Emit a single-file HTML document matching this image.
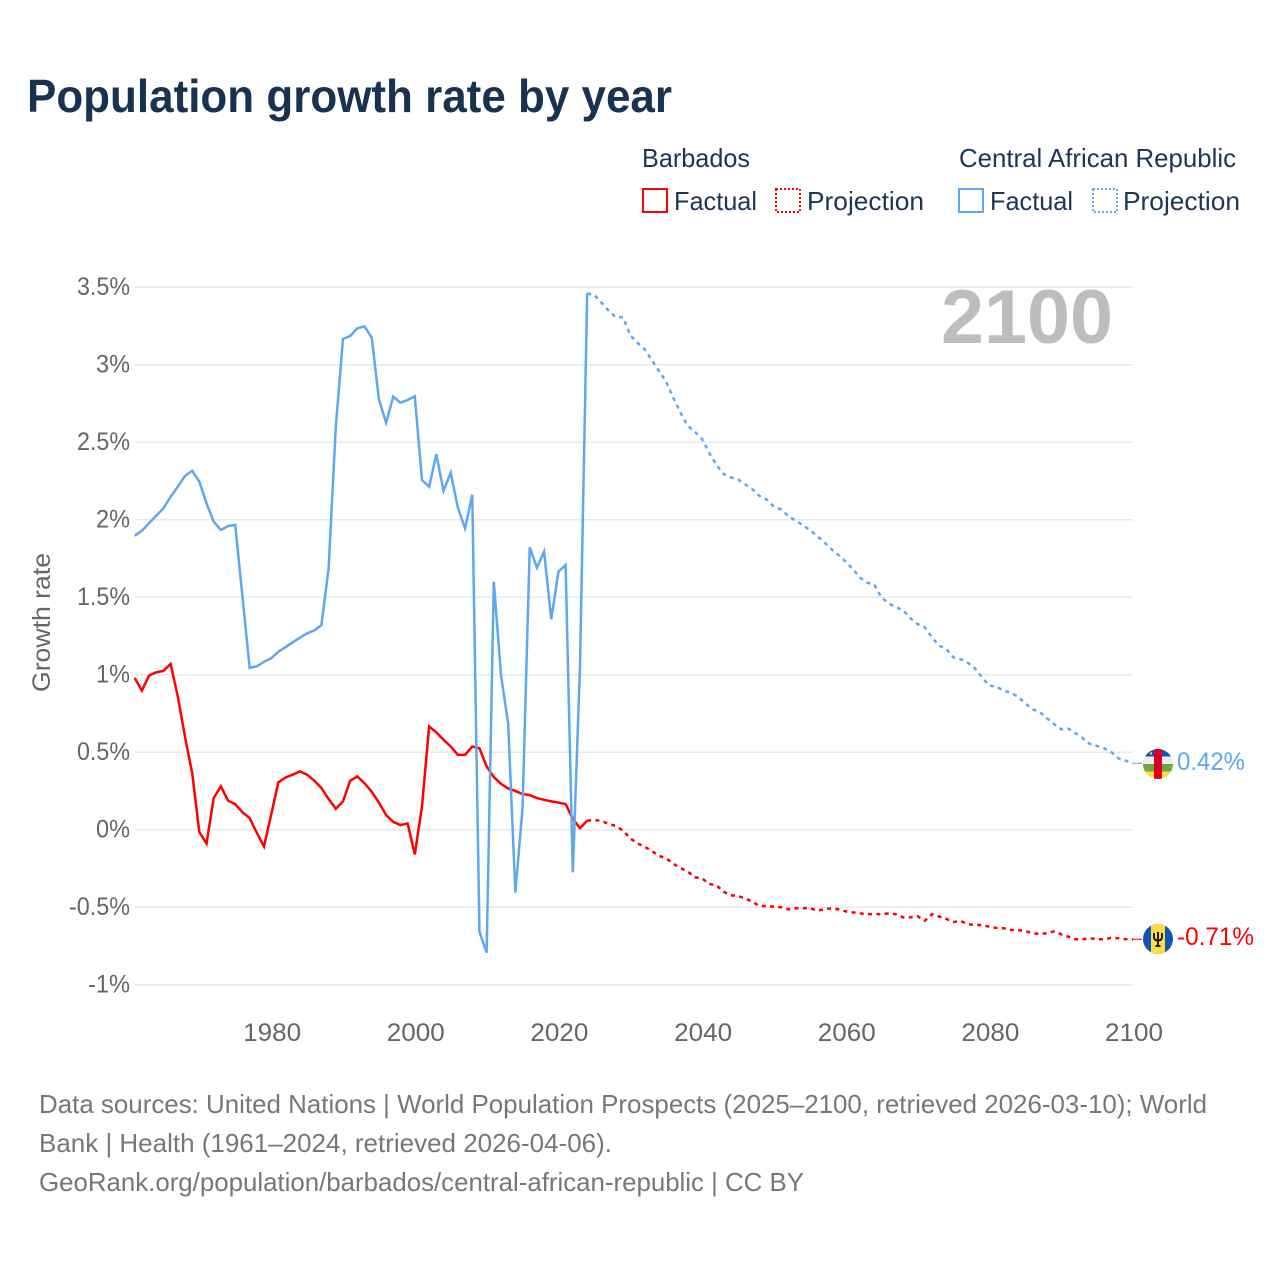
<!DOCTYPE html>
<html lang="en">
<head>
<meta charset="utf-8">
<title>Population growth rate by year</title>
<style>
html,body{margin:0;padding:0;background:#fff;}
svg{display:block;font-family:"Liberation Sans",sans-serif;}
</style>
</head>
<body>
<svg id="chart" xmlns="http://www.w3.org/2000/svg" width="1280" height="1280" viewBox="0 0 1280 1280">
  <rect width="1280" height="1280" fill="#fff"/>
  <text x="27" y="112" font-size="46" font-weight="700" fill="#18324f" textLength="645" lengthAdjust="spacingAndGlyphs">Population growth rate by year</text>

  <g font-size="26" fill="#1d3557">
    <text x="642" y="167" textLength="108" lengthAdjust="spacingAndGlyphs">Barbados</text>
    <text x="959" y="167" textLength="277" lengthAdjust="spacingAndGlyphs">Central African Republic</text>
    <rect x="643" y="189" width="24" height="23" fill="none" stroke="#ff0000" stroke-width="2"/>
    <text x="674" y="210" textLength="83" lengthAdjust="spacingAndGlyphs">Factual</text>
    <rect x="776" y="189" width="24" height="23" fill="none" stroke="#ff0000" stroke-width="2" stroke-dasharray="2 2"/>
    <text x="807" y="210" textLength="117" lengthAdjust="spacingAndGlyphs">Projection</text>
    <rect x="959" y="189" width="24" height="23" fill="none" stroke="#5fa8ee" stroke-width="2"/>
    <text x="990" y="210" textLength="83" lengthAdjust="spacingAndGlyphs">Factual</text>
    <rect x="1093" y="189" width="24" height="23" fill="none" stroke="#5fa8ee" stroke-width="2" stroke-dasharray="2 2"/>
    <text x="1123" y="210" textLength="117" lengthAdjust="spacingAndGlyphs">Projection</text>
  </g>

  <g id="grid"></g>
  <g id="yticks"></g>
  <g id="xticks"></g>
  <text transform="translate(50,692) rotate(-90)" font-size="25" fill="#666" textLength="139" lengthAdjust="spacingAndGlyphs">Growth rate</text>
  <text x="941" y="343" font-size="76" font-weight="700" fill="#bdbdbd" textLength="172" lengthAdjust="spacingAndGlyphs">2100</text>
  <g id="series"></g>

  <defs>
    <clipPath id="clip-car"><circle cx="1158" cy="764" r="15"/></clipPath>
    <clipPath id="clip-bb"><circle cx="1158" cy="939" r="15"/></clipPath>
  </defs>
  <g id="flag-car" clip-path="url(#clip-car)">
    <rect x="1143" y="749" width="30" height="7.5" fill="#0f56b5"/>
    <rect x="1143" y="756.5" width="30" height="7.5" fill="#eeeeee"/>
    <rect x="1143" y="764" width="30" height="7.5" fill="#6da544"/>
    <rect x="1143" y="771.5" width="30" height="7.5" fill="#ffda44"/>
    <rect x="1154" y="749" width="8" height="30" fill="#d80027"/>
    <circle cx="1151" cy="753.5" r="1.2" fill="#ffda44"/>
  </g>
  <g id="flag-bb" clip-path="url(#clip-bb)">
    <rect x="1143" y="924" width="30" height="30" fill="#0f56b5"/>
    <rect x="1151" y="924" width="14" height="30" fill="#ffda44"/>
    <path d="M1158 932v14M1154 933v4q0 3.5 4 3.5t4-3.5v-4M1155.5 946h5" fill="none" stroke="#000" stroke-width="1.7"/>
  </g>
  <text x="1177" y="770" font-size="25" fill="#5fa8ee" textLength="68" lengthAdjust="spacingAndGlyphs">0.42%</text>
  <text x="1177" y="945" font-size="25" fill="#ff0000" textLength="77" lengthAdjust="spacingAndGlyphs">-0.71%</text>

  <g font-size="26" fill="#777">
    <text x="39" y="1113" textLength="1168" lengthAdjust="spacingAndGlyphs">Data sources: United Nations | World Population Prospects (2025–2100, retrieved 2026-03-10); World</text>
    <text x="39" y="1152" textLength="573" lengthAdjust="spacingAndGlyphs">Bank | Health (1961–2024, retrieved 2026-04-06).</text>
    <text x="39" y="1191" textLength="765" lengthAdjust="spacingAndGlyphs">GeoRank.org/population/barbados/central-african-republic | CC BY</text>
  </g>
</svg>
<script>
const factualStartYear = 1961;
const projectionStartYear = 2024;
const yTickValues = [3.5, 3, 2.5, 2, 1.5, 1, 0.5, 0, -0.5, -1];
const yTickLabels = ["3.5%", "3%", "2.5%", "2%", "1.5%", "1%", "0.5%", "0%", "-0.5%", "-1%"];
const xTickYears = [1980, 2000, 2020, 2040, 2060, 2080, 2100];

const barbadosFactual = [
  0.98, 0.897, 0.995, 1.015, 1.025, 1.069, 0.86, 0.60, 0.365, -0.015,
  -0.09, 0.205, 0.28, 0.187, 0.165, 0.113, 0.075, -0.02, -0.108, 0.097,
  0.305, 0.337, 0.355, 0.376, 0.355, 0.316, 0.269, 0.198, 0.135, 0.183,
  0.316, 0.344, 0.30, 0.245, 0.175, 0.095, 0.05, 0.03, 0.04, -0.16,
  0.15, 0.667, 0.628, 0.58, 0.537, 0.483, 0.483, 0.537, 0.525, 0.408,
  0.34, 0.296, 0.266, 0.25, 0.23, 0.223, 0.204, 0.193, 0.183, 0.175,
  0.165, 0.07, 0.01, 0.058
];
const barbadosProjection = [
  0.058, 0.063, 0.056, 0.037, 0.024, -0.006, -0.056, -0.088, -0.11, -0.137,
  -0.168, -0.185, -0.22, -0.247, -0.27, -0.307, -0.314, -0.35, -0.359, -0.40,
  -0.423, -0.428, -0.443, -0.465, -0.492, -0.492, -0.497, -0.50, -0.514, -0.507,
  -0.507, -0.505, -0.522, -0.514, -0.507, -0.514, -0.527, -0.533, -0.54, -0.545,
  -0.545, -0.545, -0.54, -0.545, -0.566, -0.566, -0.558, -0.588, -0.545, -0.56,
  -0.576, -0.595, -0.589, -0.61, -0.615, -0.615, -0.626, -0.634, -0.636, -0.647,
  -0.647, -0.654, -0.667, -0.673, -0.668, -0.656, -0.675, -0.69, -0.707, -0.707,
  -0.70, -0.707, -0.707, -0.697, -0.70, -0.707, -0.707
];
const carFactual = [
  1.897, 1.929, 1.977, 2.026, 2.073, 2.148, 2.213, 2.282, 2.316, 2.245,
  2.106, 1.987, 1.934, 1.959, 1.966, 1.506, 1.045, 1.054, 1.084, 1.106,
  1.148, 1.178, 1.209, 1.239, 1.267, 1.286, 1.32, 1.686, 2.6, 3.166,
  3.185, 3.235, 3.247, 3.176, 2.777, 2.626, 2.794, 2.755, 2.772, 2.796,
  2.256, 2.213, 2.422, 2.187, 2.303, 2.077, 1.944, 2.161, -0.658, -0.794,
  1.6, 0.998, 0.686, -0.406, 0.138, 1.822, 1.69, 1.794, 1.357, 1.665,
  1.708, -0.275, 1.052, 3.46
];
const carProjection = [
  3.46, 3.45, 3.40, 3.348, 3.306, 3.306, 3.19, 3.142, 3.10, 3.03,
  2.96, 2.89, 2.785, 2.69, 2.606, 2.568, 2.52, 2.43, 2.353, 2.295,
  2.273, 2.26, 2.228, 2.197, 2.153, 2.13, 2.084, 2.066, 2.024, 1.994,
  1.966, 1.933, 1.895, 1.855, 1.81, 1.772, 1.729, 1.68, 1.626, 1.594,
  1.579, 1.497, 1.46, 1.435, 1.417, 1.364, 1.327, 1.306, 1.241, 1.187,
  1.166, 1.112, 1.10, 1.077, 1.041, 0.981, 0.929, 0.923, 0.897, 0.884,
  0.858, 0.815, 0.777, 0.76, 0.719, 0.682, 0.648, 0.652, 0.622, 0.59,
  0.553, 0.54, 0.525, 0.50, 0.46, 0.445, 0.428
];

const SVG_NS = "http://www.w3.org/2000/svg";
const xScale = function (year) { return 134.7 + (year - 1961) * (998.3 / 139); };
const yScale = function (v) { return 829.7 - v * 155; };
const labelWidth = function (s) {
  let w = 0;
  for (const c of s) {
    if (c === "%") w += 19.5;
    else if (c === ".") w += 4.5;
    else if (c === "-") w += 8;
    else w += 14.5;
  }
  return w;
};

function buildPath(values, startYear) {
  return values.map(function (v, i) {
    return (i ? "L" : "M") + xScale(startYear + i).toFixed(2) + " " + yScale(v).toFixed(2);
  }).join("");
}

const gridGroup = document.getElementById("grid");
const yTickGroup = document.getElementById("yticks");
const xTickGroup = document.getElementById("xticks");
const seriesGroup = document.getElementById("series");

yTickValues.forEach(function (v, i) {
  const line = document.createElementNS(SVG_NS, "line");
  
  
  line.setAttribute("x1", 135);
  line.setAttribute("x2", 1133);
  line.setAttribute("y1", yScale(v));
  line.setAttribute("y2", yScale(v));
  line.setAttribute("stroke", "#e9e9e9");
  line.setAttribute("stroke-width", "1.5");
  gridGroup.appendChild(line);

  const label = document.createElementNS(SVG_NS, "text");
  
  
  label.setAttribute("x", 130);
  label.setAttribute("y", yScale(v) + 8);
  label.setAttribute("text-anchor", "end");
  label.setAttribute("font-size", "25");
  label.setAttribute("fill", "#666");
  label.setAttribute("textLength", labelWidth(yTickLabels[i]));
  label.setAttribute("lengthAdjust", "spacingAndGlyphs");
  label.textContent = yTickLabels[i];
  yTickGroup.appendChild(label);
});

xTickYears.forEach(function (year) {
  const label = document.createElementNS(SVG_NS, "text");
  
  
  label.setAttribute("x", xScale(year) + 1);
  label.setAttribute("y", 1041);
  label.setAttribute("text-anchor", "middle");
  label.setAttribute("font-size", "25");
  label.setAttribute("fill", "#666");
  label.setAttribute("textLength", "58");
  label.setAttribute("lengthAdjust", "spacingAndGlyphs");
  label.textContent = String(year);
  xTickGroup.appendChild(label);
});

const barbadosFactualLine = document.createElementNS(SVG_NS, "path");


barbadosFactualLine.setAttribute("d", buildPath(barbadosFactual, factualStartYear));
barbadosFactualLine.setAttribute("fill", "none");
barbadosFactualLine.setAttribute("stroke", "#ff0000");
barbadosFactualLine.setAttribute("stroke-width", "2.5");
seriesGroup.appendChild(barbadosFactualLine);

const barbadosProjectionLine = document.createElementNS(SVG_NS, "path");


barbadosProjectionLine.setAttribute("d", buildPath(barbadosProjection, projectionStartYear));
barbadosProjectionLine.setAttribute("fill", "none");
barbadosProjectionLine.setAttribute("stroke", "#ff0000");
barbadosProjectionLine.setAttribute("stroke-width", "2.5");
barbadosProjectionLine.setAttribute("stroke-dasharray", "4 4.3");
seriesGroup.appendChild(barbadosProjectionLine);

const carFactualLine = document.createElementNS(SVG_NS, "path");


carFactualLine.setAttribute("d", buildPath(carFactual, factualStartYear));
carFactualLine.setAttribute("fill", "none");
carFactualLine.setAttribute("stroke", "#5fa8ee");
carFactualLine.setAttribute("stroke-width", "2.5");
seriesGroup.appendChild(carFactualLine);

const carProjectionLine = document.createElementNS(SVG_NS, "path");


carProjectionLine.setAttribute("d", buildPath(carProjection, projectionStartYear));
carProjectionLine.setAttribute("fill", "none");
carProjectionLine.setAttribute("stroke", "#5fa8ee");
carProjectionLine.setAttribute("stroke-width", "2.5");
carProjectionLine.setAttribute("stroke-dasharray", "4 4.3");
seriesGroup.appendChild(carProjectionLine);

const carConnector = document.createElementNS(SVG_NS, "line");


carConnector.setAttribute("x1", xScale(2100));
carConnector.setAttribute("x2", 1142);
carConnector.setAttribute("y1", yScale(carProjection[carProjection.length - 1]));
carConnector.setAttribute("y2", yScale(carProjection[carProjection.length - 1]));
carConnector.setAttribute("stroke", "#5fa8ee");
carConnector.setAttribute("stroke-width", "1");
seriesGroup.appendChild(carConnector);

const barbadosConnector = document.createElementNS(SVG_NS, "line");


barbadosConnector.setAttribute("x1", xScale(2100));
barbadosConnector.setAttribute("x2", 1142);
barbadosConnector.setAttribute("y1", yScale(barbadosProjection[barbadosProjection.length - 1]));
barbadosConnector.setAttribute("y2", yScale(barbadosProjection[barbadosProjection.length - 1]));
barbadosConnector.setAttribute("stroke", "#ff0000");
barbadosConnector.setAttribute("stroke-width", "1");
seriesGroup.appendChild(barbadosConnector);
</script>
</body>
</html>
